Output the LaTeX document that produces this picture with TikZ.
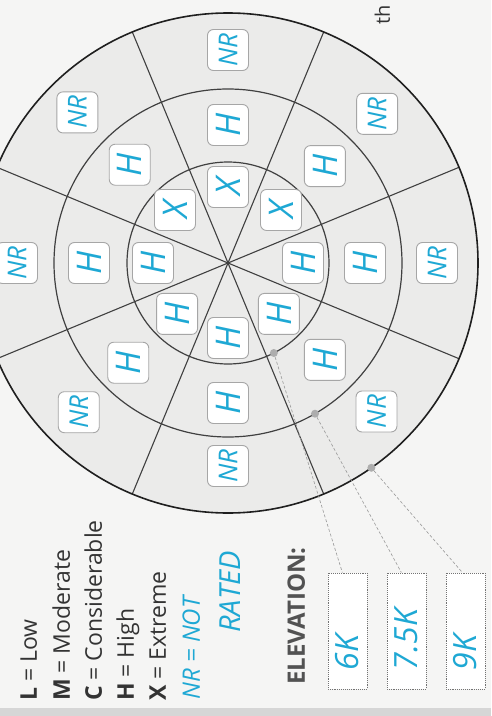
\documentclass[tikz,border=0pt]{standalone}
\usepackage{fontspec}
\setmainfont{Open Sans}
\usepackage{xcolor}
\usepackage{tikz}
\usetikzlibrary{positioning}

\definecolor{marker}{RGB}{30,168,212}
\definecolor{paper}{RGB}{245,245,244}
\definecolor{rosefill}{RGB}{235,235,234}
\definecolor{ink}{RGB}{51,51,51}

\begin{document}
\begin{tikzpicture}[x=1pt, y=1pt,
    cell/.style={rectangle, rounded corners=6pt, draw=black!35, fill=white, line width=0.9pt,
        minimum size=41pt, inner sep=0pt, rotate=90, text=marker,
        font=\fontsize{34}{34}\selectfont\itshape},
    nrcell/.style={cell, font=\fontsize{26}{26}\selectfont\itshape},
    elev/.style={rectangle, draw=black!55, densely dotted, line width=0.9pt, fill=white,
        rotate=90, minimum height=39pt, text width=78pt, inner xsep=19pt, inner ysep=0pt,
        align=left, text=marker, font=\fontsize{32}{32}\selectfont\itshape},
    legend/.style={rotate=90, anchor=base west, inner sep=0pt, text=ink,
        font=\fontsize{23}{23}\selectfont},
    hand/.style={legend, text=marker, font=\fontsize{24}{24}\selectfont\itshape},
    dot/.style={circle, fill=black!32, inner sep=0pt, minimum size=8pt},
    ring/.style={draw=black!75, line width=1.2pt},
    spoke/.style={draw=black!75, line width=1.1pt},
    link/.style={draw, black!40, densely dashed, line width=0.6pt}
]
    \useasboundingbox (-228,-453) rectangle (263,263);
    \clip (-228,-453) rectangle (263,263);
    \fill[paper] (-228,-453) rectangle (263,263);
    \fill[black!16] (-228,-453) rectangle (263,-445);

    % rose
    \coordinate (O) at (0,0);
    \fill[rosefill] (O) circle[radius=250];
    \path[spoke] (22.5:250) -- (202.5:250);
    \path[spoke] (67.5:250) -- (247.5:250);
    \path[spoke] (112.5:250) -- (292.5:250);
    \path[spoke] (157.5:250) -- (337.5:250);
    \path[ring] (O) circle[radius=101];
    \path[ring] (O) circle[radius=174];
    \draw[black!88, line width=1.6pt] (O) circle[radius=250];

    % inner ring
    \node[cell] (in0) at (0:75) {H};
    \node[cell] (in45) at (45:75) {X};
    \node[cell] (in90) at (90:76) {X};
    \node[cell] (in135) at (135:75) {X};
    \node[cell] (in180) at (180:75) {H};
    \node[cell] (in225) at (225:72) {H};
    \node[cell] (in270) at (270:75) {H};
    \node[cell] (in315) at (315:72) {H};

    % middle ring
    \node[cell] (mid0) at (0:137) {H};
    \node[cell] (mid45) at (45:137) {H};
    \node[cell] (mid90) at (90:138) {H};
    \node[cell] (mid135) at (135:139) {H};
    \node[cell] (mid180) at (180:139) {H};
    \node[cell] (mid225) at (225:141) {H};
    \node[cell] (mid270) at (270:140) {H};
    \node[cell] (mid315) at (315:137) {H};

    % outer ring
    \node[nrcell] (out0) at (0:209) {NR};
    \node[nrcell] (out45) at (45:211) {NR};
    \node[nrcell] (out90) at (90:213) {NR};
    \node[nrcell] (out135) at (135:213) {NR};
    \node[nrcell] (out180) at (180:211) {NR};
    \node[nrcell] (out225) at (225:211) {NR};
    \node[nrcell] (out270) at (270:203) {NR};
    \node[nrcell] (out315) at (315:210) {NR};

    % elevation bands
    \node[dot] (d1) at (-63:101) {};
    \node[dot] (d2) at (-60:174) {};
    \node[dot] (d3) at (-55:250) {};

    \node[legend, font=\fontsize{24}{24}\selectfont\bfseries, text=black!68] (elevtitle) at (77,-422) {ELEVATION:};
    \node[elev] (elev1) at (119.5,-368) {6K};
    \node[elev] (elev2) at (178.5,-368) {7.5K};
    \node[elev] (elev3) at (237.5,-368) {9K};

    \path[link] (d1) -- (elev1.5);
    \path[link] (d2) -- (elev2.5);
    \path[link] (d3) -- (elev3.3);

    % key
    \node[legend] (keylow) at (-191,-438) {\textbf{L} = Low};
    \node[legend] (keymod) at (-158,-438) {\textbf{M} = Moderate};
    \node[legend] (keycon) at (-126,-438) {\textbf{C} = Considerable};
    \node[legend] (keyhigh) at (-94,-438) {\textbf{H} = High};
    \node[legend] (keyext) at (-62,-438) {\textbf{X} = Extreme};
    \node[hand] (keynr) at (-28,-437) {NR = NOT};
    \node[hand, font=\fontsize{29}{29}\selectfont\itshape] (keyrated) at (13,-370) {RATED};

    \node[legend, font=\fontsize{20}{20}\selectfont] (pagetext) at (162,238) {th};
\end{tikzpicture}
\end{document}
